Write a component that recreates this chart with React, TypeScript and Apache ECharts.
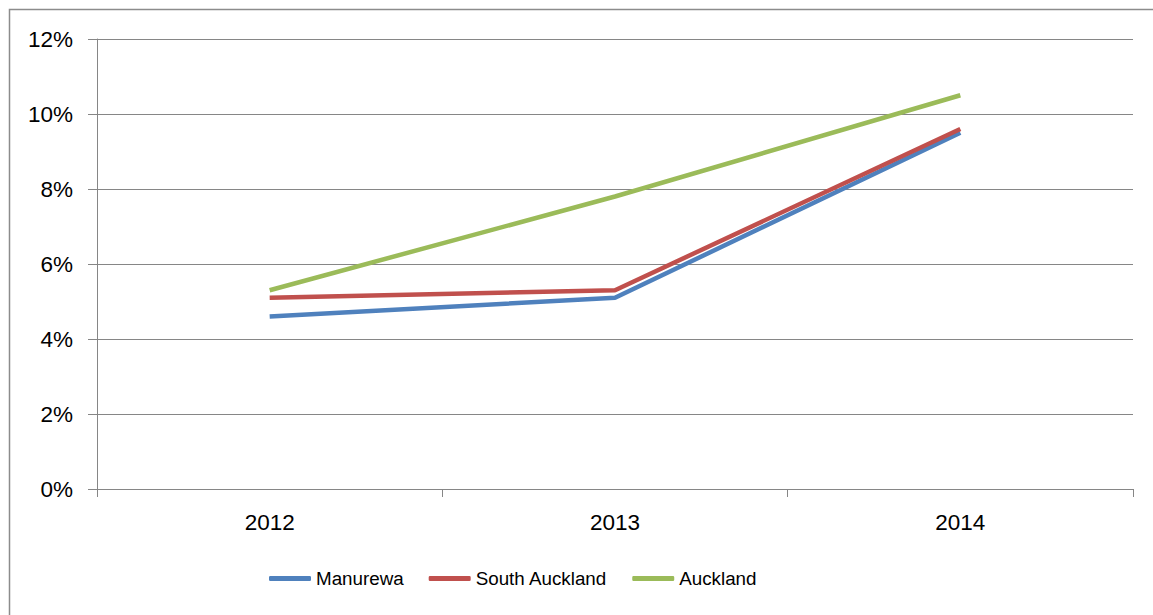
import React, { useEffect, useRef } from "react";
import * as echarts from "echarts";

const categories = ["2012", "2013", "2014"];
const manurewa = [4.6, 5.1, 9.5];
const southAuckland = [5.1, 5.3, 9.6];
const auckland = [5.3, 7.8, 10.5];
const seriesNames = ["Manurewa", "South Auckland", "Auckland"];
const colors = ["#4F81BD", "#C0504D", "#9BBB59"];

const FONT = "'Liberation Sans', Arial, sans-serif";
const GREY = "#868686";

export default function App() {
  const ref = useRef<HTMLDivElement>(null);
  useEffect(() => {
    if (!ref.current) return;
    const chart = echarts.init(ref.current, null, { renderer: "svg" });
    const data = [manurewa, southAuckland, auckland];
    chart.setOption({
      animation: false,
      backgroundColor: "#ffffff",
      graphic: [
        {
          type: "rect",
          shape: { x: 9.5, y: 9.5, width: 1200, height: 700 },
          style: { fill: "none", stroke: "#8c8c8c", lineWidth: 1.5 },
          silent: true,
        },
      ],
      grid: { left: 97, top: 39, width: 1036, height: 450, containLabel: false },
      legend: {
        left: 264,
        top: 564,
        icon: "roundRect",
        itemWidth: 42,
        itemHeight: 5,
        itemGap: 25,
        data: seriesNames,
        textStyle: { fontFamily: FONT, fontSize: 18.8, color: "#000" },
      },
      xAxis: {
        type: "category",
        data: categories,
        boundaryGap: true,
        axisLine: { lineStyle: { color: GREY, width: 1 } },
        axisTick: { show: true, length: 8, alignWithLabel: false, lineStyle: { color: GREY } },
        axisLabel: { fontFamily: FONT, fontSize: 22.5, color: "#000", margin: 22 },
        splitLine: { show: false },
      },
      yAxis: {
        type: "value",
        min: 0,
        max: 12,
        interval: 2,
        axisLine: { show: true, lineStyle: { color: GREY, width: 1 } },
        axisTick: { show: true, length: 9, lineStyle: { color: GREY } },
        axisLabel: {
          fontFamily: FONT,
          fontSize: 22.5,
          color: "#000",
          margin: 24,
          formatter: "{value}%",
        },
        splitLine: { show: true, lineStyle: { color: GREY, width: 1 } },
      },
      series: seriesNames.map((name, i) => ({
        name,
        type: "line",
        data: data[i],
        symbol: "none",
        color: colors[i],
        lineStyle: { color: colors[i], width: 4.5 },
        itemStyle: { color: colors[i] },
      })),
    });
    return () => chart.dispose();
  }, []);
  return (
    <div
      ref={ref}
      style={{ position: "fixed", left: 0, top: 0, width: 1153, height: 615 }}
    />
  );
}
